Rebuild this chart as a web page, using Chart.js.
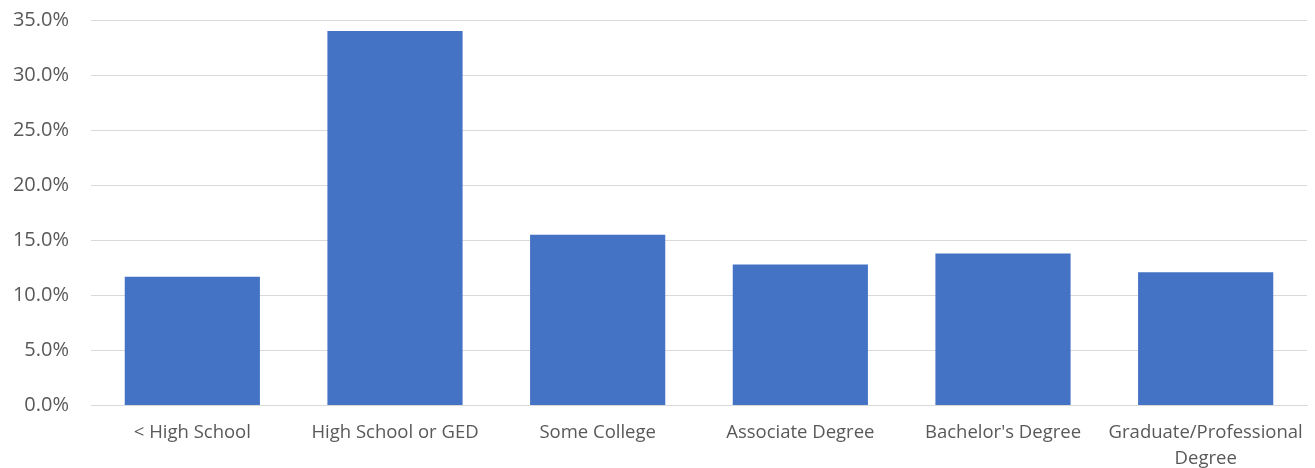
<!DOCTYPE html>
<html>
<head>
<meta charset="utf-8">
<script src="https://cdn.jsdelivr.net/npm/chart.js@4/dist/chart.umd.min.js"></script>
<style>
html,body{margin:0;padding:0;background:#fff;}
#wrap{width:1315px;height:468px;position:relative;}
</style>
</head>
<body>
<div id="wrap"><canvas id="c" width="1315" height="468"></canvas></div>
<script>
const categories = ['< High School', 'High School or GED', 'Some College', 'Associate Degree', "Bachelor's Degree", ['Graduate/Professional', 'Degree']];
const shares = [11.7, 34.0, 15.5, 12.8, 13.8, 12.1];
const yMin = 0, yMax = 35, yStep = 5;

new Chart(document.getElementById('c'), {
  type: 'bar',
  data: {
    labels: categories,
    datasets: [{
      data: shares,
      backgroundColor: '#4472c4',
      borderWidth: 0,
      barPercentage: 0.667,
      categoryPercentage: 1.0
    }]
  },
  options: {
    responsive: false,
    animation: false,
    layout: { padding: { top: 20, right: 8, left: 0, bottom: 0 } },
    plugins: { legend: { display: false }, tooltip: { enabled: false } },
    scales: {
      x: {
        grid: { display: false, drawTicks: false },
        border: { display: true, color: '#d9d9d9', width: 1 },
        ticks: { color: '#595959', font: { family: 'Open Sans', size: 18.5, lineHeight: 1.4 }, padding: 14, maxRotation: 0, autoSkip: false },
        afterFit: s => { s.height = 62.5; s.paddingLeft = 0; s.paddingRight = 0; }
      },
      y: {
        min: yMin, max: yMax,
        grid: { color: '#d9d9d9', drawTicks: false, lineWidth: 1 },
        border: { display: false },
        ticks: {
          stepSize: yStep,
          color: '#595959',
          font: { family: 'Open Sans', size: 20 },
          padding: 22,
          callback: v => v.toFixed(1) + '%'
        },
        afterFit: s => { s.width = 91; s.paddingTop = 0; s.paddingBottom = 0; }
      }
    }
  }
});
</script>
</body>
</html>
